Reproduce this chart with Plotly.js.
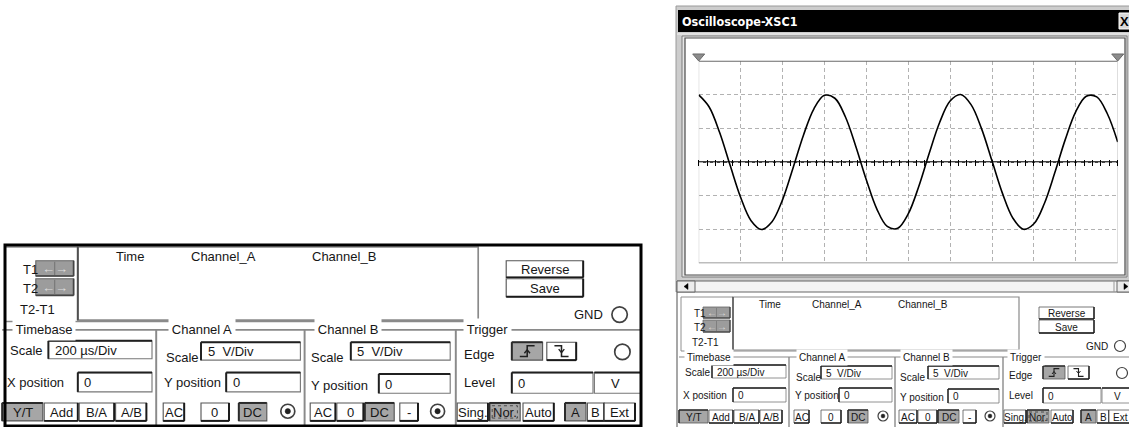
<!DOCTYPE html>
<html><head><meta charset="utf-8">
<script src="https://cdn.plot.ly/plotly-3.0.1.min.js"></script>
<style>html,body{margin:0;padding:0;background:#fff}#chart{width:1129px;height:427px}</style>
</head><body><div id="chart"></div>
<script>
// ---------- values ----------
const timeUs = [0,50,100,150,200,250,300,350,400,450,500,550,600,650,700,750,800,850,900,950,
  1000,1050,1100,1150,1200,1250,1300,1350,1400,1450,1500,1550,1600,1650,1700,1750,1800,1850,1900,1950,2000];
const channelA_V = [9.93,8.14,4.36,-0.49,-5.22,-8.69,-10.0,-8.85,-5.61,-0.92,3.97,7.88,9.87,9.44,6.70,2.31,-2.63,-6.94,-9.54,-9.81,
  -7.69,-3.67,1.25,5.85,9.02,9.99,8.50,4.94,0.17,-4.65,-8.33,-9.96,-9.15,-6.14,-1.57,3.35,7.46,9.74,9.64,7.18,2.96];
const usPerDiv = 200;          // Timebase scale
const voltsPerDiv = 5;         // Channel A scale
const xDivisions = 10;
const yDivisions = 6;
const minorPerDiv = 5;
const windowTitle = 'Oscilloscope-XSC1';
const cursorLabels = ['T1','T2','T2-T1'];
const readoutColumns = ['Time','Channel_A','Channel_B'];
const groupTitles = ['Timebase','Channel A','Channel B','Trigger'];
const panelButtons = ['Reverse','Save'];
const timebaseScaleText = '200 µs/Div';
const channelScaleText = '5  V/Div';
const positionText = '0';
const timebaseModes = ['Y/T','Add','B/A','A/B'];
const channelACoupling = ['AC','0','DC'];
const channelBCoupling = ['AC','0','DC','-'];
const triggerModes = ['Sing.','Nor.','Auto'];
const triggerSources = ['A','B','Ext'];
const triggerLevelText = '0';
const triggerUnit = 'V';

// ---------- helpers (pixel -> paper) ----------
const W = 1129, H = 427;
const FONT = 'Liberation Sans, Arial, sans-serif';
const shapes = [], ann = [];
const px = x => x / W, py = y => 1 - y / H;
function R(x0,y0,x1,y1,o={}){
  shapes.push({type:'rect',xref:'paper',yref:'paper',x0:px(x0),x1:px(x1),y0:py(y1),y1:py(y0),
    fillcolor:o.fill||'rgba(0,0,0,0)',
    line:{color:o.line||'rgba(0,0,0,0)',width:o.line?(o.lw||1):0,dash:o.dash||'solid'},layer:o.layer||'below'});
}
function L(x0,y0,x1,y1,c,w,o={}){
  shapes.push({type:'line',xref:'paper',yref:'paper',x0:px(x0),y0:py(y0),x1:px(x1),y1:py(y1),
    line:{color:c,width:w,dash:o.dash||'solid'},layer:o.layer||'below'});
}
function C(cx,cy,r,o={}){
  shapes.push({type:'circle',xref:'paper',yref:'paper',x0:px(cx-r),x1:px(cx+r),y0:py(cy+r),y1:py(cy-r),
    fillcolor:o.fill||'rgba(0,0,0,0)',line:{color:o.line||'#404040',width:o.lw||1},layer:o.layer||'below'});
}
function P(pts,o={}){
  let d = pts.map((p,i)=>(i?'L':'M')+px(p[0]).toFixed(5)+','+py(p[1]).toFixed(5)).join(' ');
  if(o.closed) d += ' Z';
  shapes.push({type:'path',xref:'paper',yref:'paper',path:d,fillcolor:o.fill||'rgba(0,0,0,0)',
    line:{color:o.line||'#202020',width:o.lw===undefined?1:o.lw},layer:o.layer||'below'});
}
function T(x,y,s,size,o={}){
  ann.push({xref:'paper',yref:'paper',x:px(x),y:py(y),text:s,showarrow:false,
    xanchor:o.xa||'center',yanchor:'middle',
    font:{family:o.family||FONT,size:size,color:o.color||'#161616'},
    bgcolor:o.bg||'rgba(0,0,0,0)',borderpad:o.pad===undefined?0:o.pad});
}
function button(x0,y0,x1,y1,label,fs,k,o={}){
  R(x0,y0,x1,y1,{fill:o.pressed?'#a6a6a6':'#ffffff',line:'#555',lw:0.8*k});
  if(o.pressed){ L(x0,y0,x1,y0,'#2a2a2a',1.4*k); L(x0,y0,x0,y1,'#2a2a2a',1.4*k); }
  else { L(x0,y1,x1,y1,'#1a1a1a',1.4*k); L(x1,y0,x1,y1,'#1a1a1a',1.4*k); }
  if(o.dotted) R(x0+2*k,y0+2*k,x1-2*k,y1-2*k,{line:'#333',lw:0.8,dash:'dot'});
  if(label!==undefined) T((x0+x1)/2,(y0+y1)/2+0.5*k,label,fs);
}
function textbox(x0,y0,x1,y1,txt,fs,k){
  R(x0,y0,x1,y1,{fill:'#fff',line:'#777',lw:0.8*k});
  L(x0,y0,x1,y0,'#202020',1.4*k); L(x0,y0,x0,y1,'#202020',1.4*k);
  if(txt) T(x0+4*k,(y0+y1)/2+0.5*k,txt,fs,{xa:'left'});
}
function radio(cx,cy,r,sel,k){
  C(cx,cy,r,{fill:'#fff',line:'#404040',lw:1.2*k});
  if(sel) C(cx,cy,r*0.38,{fill:'#222',line:'#222',lw:0.5});
}
function edgeSym(x0,y0,x1,y1,rising,k){
  const cx=(x0+x1)/2, w=x1-x0, h=y1-y0;
  const yb=y0+h*0.8, yt=y0+h*0.2, xl=cx-w*0.24, xr=cx+w*0.24;
  P(rising?[[xl,yb],[cx,yb],[cx,yt],[xr,yt]]:[[xl,yt],[cx,yt],[cx,yb],[xr,yb]],{line:'#202020',lw:1.1*k});
  const ya=(yt+yb)/2;
  P(rising?[[cx-2*k,ya+1.5*k],[cx,ya-1*k],[cx+2*k,ya+1.5*k]]:[[cx-2*k,ya-1.5*k],[cx,ya+1*k],[cx+2*k,ya-1.5*k]],{line:'#202020',lw:1*k});
}
function arrowBtn(x0,y0,x1,y1,k,fk){
  R(x0,y0,x1,y1,{fill:'#9c9c9c',line:'#666',lw:0.8*k});
  L(x0,y1,x1,y1,'#444',1.2*k); L(x1,y0,x1,y1,'#444',1.2*k);
  L((x0+x1)/2,y0+1,(x0+x1)/2,y1-1,'#777',0.8*k);
  T((x0+x1)/2,(y0+y1)/2,'<b>←→</b>',10*fk,{color:'#dcdcdc'});
}

// ---------- control panel (base coordinates = right window) ----------
function panel(ox,oy,sx,sy,fk,rightEdge){
  const X=x=>ox+(x-679)*sx, Y=y=>oy+(y-292)*sy, k=sx, fs=10*fk;
  // cursor + readout section
  L(X(681),Y(297),X(733),Y(297),'#909090',1*k);
  L(X(681),Y(297),X(681),Y(351),'#909090',1*k);
  R(X(733),Y(297),X(1019),Y(350),{fill:'#fff',line:'#8a8a8a',lw:1.2*k});
  L(X(733),Y(297),X(733),Y(350),'#505050',1.4*k);
  L(X(681),Y(351),X(1019),Y(351),'#8a8a8a',1.2*k);
  T(X(693),Y(313),cursorLabels[0],fs,{xa:'left'});
  T(X(693),Y(327),cursorLabels[1],fs,{xa:'left'});
  T(X(691),Y(342),cursorLabels[2],fs,{xa:'left'});
  arrowBtn(X(703),Y(307),X(730),Y(318),k,fk);
  arrowBtn(X(703),Y(320),X(730),Y(332),k,fk);
  [770,837,923].forEach((cx,i)=>T(X(cx),Y(304),readoutColumns[i],fs));
  button(X(1039),Y(307),X(1094),Y(319),panelButtons[0],fs,k);
  button(X(1039),Y(320),X(1094),Y(333),panelButtons[1],fs,k);
  T(X(1109),Y(346),'GND',fs,{xa:'right'});
  radio(X(1120),Y(346),5.5*k,false,k);
  // group frames
  L(X(679),Y(357),X(rightEdge),Y(357),'#8a8a8a',1.2*k);
  [789,895,1003].forEach(x=>{L(X(x),Y(357),X(x),Y(428),'#8a8a8a',1.4*k);});
  [709,822,926,1026].forEach((cx,i)=>T(X(cx),Y(357),groupTitles[i],fs,{bg:'#fff',pad:2*k}));
  // Timebase
  T(X(684),Y(372),'Scale',fs,{xa:'left'});
  textbox(X(712),Y(365),X(786),Y(378),timebaseScaleText,fs,k);
  T(X(682),Y(395),'X position',fs,{xa:'left'});
  textbox(X(733),Y(388),X(786),Y(402),positionText,fs,k);
  [[679,708],[709,733],[734,759],[760,782]].forEach((b,i)=>
    button(X(b[0]),Y(410),X(b[1]),Y(423),timebaseModes[i],fs,k,{pressed:i===0}));
  // Channel A
  T(X(795),Y(377),'Scale',fs,{xa:'left'});
  textbox(X(821),Y(366),X(892),Y(379),channelScaleText,fs,k);
  T(X(794),Y(395),'Y position',fs,{xa:'left'});
  textbox(X(839),Y(388),X(892),Y(402),positionText,fs,k);
  [[794,809],[821,841],[848,868]].forEach((b,i)=>
    button(X(b[0]),Y(410),X(b[1]),Y(423),channelACoupling[i],fs,k,{pressed:i===2}));
  radio(X(883),Y(416),5*k,true,k);
  // Channel B
  T(X(899),Y(377),'Scale',fs,{xa:'left'});
  textbox(X(928),Y(366),X(999),Y(379),channelScaleText,fs,k);
  T(X(899),Y(397),'Y position',fs,{xa:'left'});
  textbox(X(948),Y(389),X(999),Y(403),positionText,fs,k);
  [[899,917],[918,937],[938,959],[963,976]].forEach((b,i)=>
    button(X(b[0]),Y(410),X(b[1]),Y(423),channelBCoupling[i],fs,k,{pressed:i===2}));
  radio(X(990),Y(416),5*k,true,k);
  // Trigger
  T(X(1008),Y(375),'Edge',fs,{xa:'left'});
  button(X(1043),Y(366),X(1065),Y(379),undefined,fs,k,{pressed:true});
  edgeSym(X(1043),Y(366),X(1065),Y(379),true,k);
  button(X(1068),Y(366),X(1089),Y(379),undefined,fs,k);
  edgeSym(X(1068),Y(366),X(1089),Y(379),false,k);
  radio(X(1122),Y(373),5.5*k,false,k);
  T(X(1008),Y(395),'Level',fs,{xa:'left'});
  textbox(X(1043),Y(388),X(1101),Y(403),triggerLevelText,fs,k);
  R(X(1102),Y(388),X(1135),Y(403),{fill:'#fff',line:'#777',lw:0.8*k});
  L(X(1102),Y(388),X(1135),Y(388),'#202020',1.4*k);
  T(X(1117),Y(396),triggerUnit,fs);
  [[1004,1026],[1027,1049],[1051,1073]].forEach((b,i)=>
    button(X(b[0]),Y(410),X(b[1]),Y(423),triggerModes[i],fs,k,{pressed:i===1,dotted:i===1}));
  [[1081,1096],[1097,1109],[1109,1131]].forEach((b,i)=>
    button(X(b[0]),Y(410),X(b[1]),Y(423),triggerSources[i],fs,k,{pressed:i===0}));
}

// ---------- left: enlarged control panel ----------
R(5,245,641,426,{fill:'#fff'});
panel(2.2,240.1,1.4,1.38,1.3,1136);
R(5,245,641,426,{line:'#000',lw:3});

// ---------- right: oscilloscope window ----------
R(676,6,1131,292,{fill:'#cdcdcd',line:'#9a9a9a',lw:1});
R(677,292,1131,428,{fill:'#fff'});
L(677,292,677,428,'#8a8a8a',1.5);
R(678,10,1131,32,{fill:'#000'});
T(681,21.5,'<b>'+windowTitle+'</b>',12.5,{xa:'left',color:'#fff',family:'DejaVu Sans Condensed, Liberation Sans Narrow, Liberation Sans, sans-serif'});
R(1119,13,1131,29,{fill:'#d8d8d8',line:'#fff',lw:1});
T(1124,21,'<b>X</b>',13,{color:'#000'});
L(677,34,1131,34,'#f4f4f4',1);
R(682,36,1127,277,{fill:'#e6e6e6',line:'#7a7a7a',lw:1});
R(685,38,1125,275,{fill:'#fff',line:'#4a4a4a',lw:1.2});
// scrollbar
R(677,281,1131,292,{fill:'#f4f4f4',line:'#666',lw:1});
R(677,281,695,292,{fill:'#ececec',line:'#666',lw:1});
P([[688,283.5],[688,289.5],[684,286.5]],{closed:true,fill:'#000',line:'#000',lw:0.5});
R(1117,281,1131,292,{fill:'#ececec',line:'#666',lw:1});
P([[1124,283.5],[1124,289.5],[1128,286.5]],{closed:true,fill:'#000',line:'#000',lw:0.5});
L(1114,281,1114,292,'#999',1);
panel(679,292,1,1,1,1131);

// ---------- scope display ----------
const plotX0 = 698.7, plotX1 = 1117.7, plotY0 = 60.7, plotY1 = 263.3;
const xMax = usPerDiv * xDivisions, yHalf = voltsPerDiv * yDivisions / 2;
const yDom = [py(plotY1), py(plotY0)];
const centerPaper = (yDom[0] + yDom[1]) / 2;

// cursor markers at top
[plotX0, plotX1].forEach(x=>{
  P([[x-6,54],[x+6,54],[x,61]],{closed:true,fill:'#8c8c8c',line:'#6a6a6a',lw:1,layer:'above'});
});
const plotShapes = [
  {type:'line',xref:'x',yref:'y',x0:0,x1:xMax,y0:yHalf,y1:yHalf,line:{color:'#6a6a6a',width:2},layer:'above'},
  {type:'line',xref:'x',yref:'y',x0:0,x1:xMax,y0:-yHalf,y1:-yHalf,line:{color:'#7c7c7c',width:1.5},layer:'above'},
  {type:'line',xref:'x',yref:'y',x0:0,x1:0,y0:-yHalf,y1:yHalf,line:{color:'#c4c4c4',width:1},layer:'below'},
  {type:'line',xref:'x',yref:'y',x0:xMax,x1:xMax,y0:-yHalf,y1:yHalf,line:{color:'#c4c4c4',width:1},layer:'below'},
  {type:'line',xref:'x',yref:'y',x0:0,x1:xMax,y0:0,y1:0,line:{color:'#000',width:1.5},layer:'below'}
];

const traces = [
  {x:timeUs, y:channelA_V, type:'scatter', mode:'lines', xaxis:'x', yaxis:'y',
   line:{color:'#000', width:1.6, shape:'spline', smoothing:1}, hoverinfo:'skip', showlegend:false},
  {x:[0], y:[0], type:'scatter', mode:'markers', xaxis:'x2', yaxis:'y',
   marker:{opacity:0}, hoverinfo:'skip', showlegend:false}
];

const layout = {
  width:W, height:H, margin:{l:0,r:0,t:0,b:0},
  paper_bgcolor:'#fff', plot_bgcolor:'#fff', showlegend:false,
  xaxis:{domain:[px(plotX0),px(plotX1)], range:[0,xMax], tick0:0, dtick:usPerDiv,
    showgrid:true, gridcolor:'#b2b2b2', gridwidth:1, griddash:'4px,3px',
    zeroline:false, showline:false, ticks:'', showticklabels:false, fixedrange:true},
  yaxis:{domain:yDom, range:[-yHalf,yHalf], tick0:0, dtick:voltsPerDiv,
    showgrid:true, gridcolor:'#b2b2b2', gridwidth:1, griddash:'4px,3px',
    zeroline:false, showline:false, ticks:'', showticklabels:false, fixedrange:true},
  xaxis2:{overlaying:'x', anchor:'free', position:centerPaper + 3/H, side:'bottom',
    range:[0,xMax], tick0:0, dtick:usPerDiv/minorPerDiv, ticks:'outside', ticklen:6, tickwidth:1,
    tickcolor:'#000', showline:false, showgrid:false, zeroline:false, showticklabels:false, fixedrange:true},
  shapes: shapes.concat(plotShapes),
  annotations: ann
};
Plotly.newPlot('chart', traces, layout, {displayModeBar:false, staticPlot:true});
</script></body></html>
